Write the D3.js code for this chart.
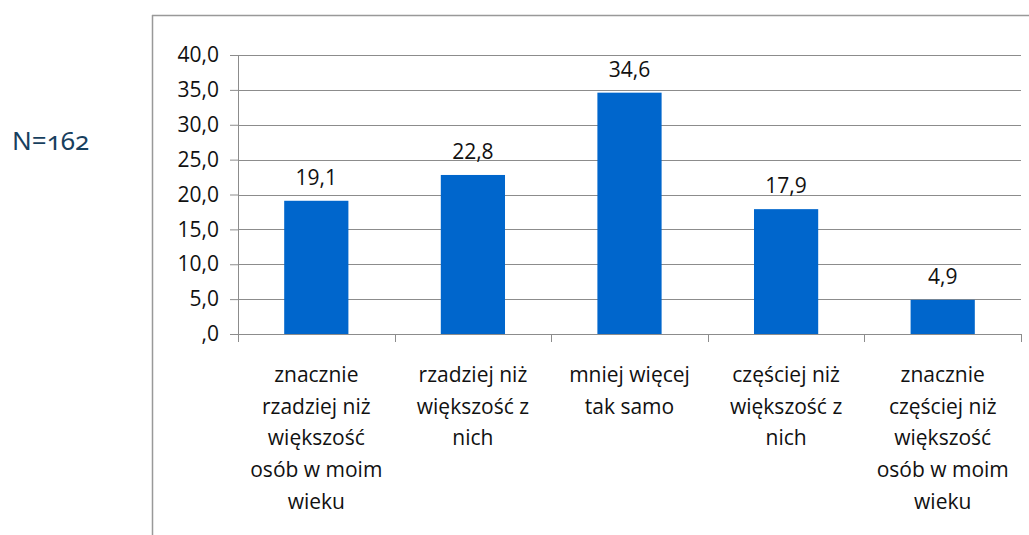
<!DOCTYPE html>
<html>
<head>
<meta charset="utf-8">
<script src="https://cdn.jsdelivr.net/npm/d3@7"></script>
<style>
  html, body { margin: 0; padding: 0; background: #fff; overflow: hidden; }
  svg { display: block; }
  svg text { font-family: "Open Sans", "Noto Sans", sans-serif; fill: #111; }
</style>
</head>
<body>
<div id="chart"></div>
<script>
// categories (each split into wrapped lines)
var categories = [
  ["znacznie", "rzadziej niż", "większość", "osób w moim", "wieku"],
  ["rzadziej niż", "większość z", "nich"],
  ["mniej więcej", "tak samo"],
  ["częściej niż", "większość z", "nich"],
  ["znacznie", "częściej niż", "większość", "osób w moim", "wieku"]
];
var values = [19.1, 22.8, 34.6, 17.9, 4.9];
var yTicks = [0, 5, 10, 15, 20, 25, 30, 35, 40];
var note = "N=162";

var width = 1029, height = 535;
var margin = { top: 55, right: 8, bottom: 201, left: 238 };
var innerWidth = width - margin.left - margin.right,
    innerHeight = height - margin.top - margin.bottom;

var fmt = function (v) {
  var s = v.toFixed(1).replace(".", ",");
  return s.indexOf("0,") === 0 ? s.slice(1) : s;
};

var svg = d3.select("#chart")
  .append("svg")
  .attr("width", width)
  .attr("height", height);

// outer frame: only its top and left edges fall inside the picture
svg.append("line")
  .attr("x1", 152.5).attr("x2", 152.5)
  .attr("y1", 15).attr("y2", height)
  .attr("stroke", "#999").attr("stroke-width", 1.5);
svg.append("line")
  .attr("x1", 152).attr("x2", width)
  .attr("y1", 15.5).attr("y2", 15.5)
  .attr("stroke", "#999").attr("stroke-width", 1.5);

svg.append("text")
  .attr("x", 12)
  .attr("y", 150)
  .style("font-family", "'Noto Sans', sans-serif")
  .style("font-size", "26px")
  .style("font-variant-numeric", "oldstyle-nums")
  .style("fill", "#17405e")
  .text(note);

var g = svg.append("g")
  .attr("transform", "translate(" + margin.left + "," + margin.top + ")");

var x = d3.scaleBand()
  .domain(d3.range(values.length))
  .range([0, innerWidth])
  .paddingInner(0.59)
  .paddingOuter(0.295);

var xb = d3.scaleBand()
  .domain(d3.range(values.length))
  .range([0, innerWidth]);

var y = d3.scaleLinear()
  .domain([0, 40])
  .range([innerHeight, 0]);

// gridlines
g.append("g")
  .selectAll("line")
  .data(yTicks.slice(1))
  .join("line")
  .attr("x1", 0)
  .attr("x2", innerWidth)
  .attr("y1", function (d) { return Math.round(y(d)) + 0.5; })
  .attr("y2", function (d) { return Math.round(y(d)) + 0.5; })
  .attr("stroke", "#8c8c8c")
  .attr("stroke-width", 1);

// y axis
var yAxis = g.append("g")
  .call(d3.axisLeft(y).tickValues(yTicks).tickFormat(fmt).tickSize(8).tickPadding(11));
yAxis.select(".domain").attr("stroke", "#8c8c8c");
yAxis.selectAll(".tick line").attr("stroke", "#8c8c8c");
yAxis.selectAll("text")
  .style("font-size", "21px")
  .style("font-family", "'Open Sans', sans-serif")
  .style("fill", "#111");

// bars
g.selectAll("rect.bar")
  .data(values)
  .join("rect")
  .attr("class", "bar")
  .attr("x", function (d, i) { return x(i); })
  .attr("y", function (d) { return y(d); })
  .attr("width", x.bandwidth())
  .attr("height", function (d) { return innerHeight - y(d); })
  .attr("fill", "#0066cc");

// value labels
g.selectAll("text.val")
  .data(values)
  .join("text")
  .attr("class", "val")
  .attr("x", function (d, i) { return x(i) + x.bandwidth() / 2; })
  .attr("y", function (d) { return y(d) - 16; })
  .attr("text-anchor", "middle")
  .style("font-size", "21px")
  .text(fmt);

// x axis baseline and category boundary ticks
g.append("line")
  .attr("x1", 0).attr("x2", innerWidth)
  .attr("y1", innerHeight + 0.5).attr("y2", innerHeight + 0.5)
  .attr("stroke", "#8c8c8c");

g.append("g")
  .selectAll("line")
  .data(d3.range(values.length + 1))
  .join("line")
  .attr("x1", function (i) { return Math.round(i * xb.step()) + 0.5; })
  .attr("x2", function (i) { return Math.round(i * xb.step()) + 0.5; })
  .attr("y1", innerHeight)
  .attr("y2", innerHeight + 8)
  .attr("stroke", "#8c8c8c");

// category labels, one text element per line
g.selectAll("g.cat")
  .data(categories)
  .join("g")
  .attr("class", "cat")
  .attr("transform", function (d, i) {
    return "translate(" + (xb(i) + xb.bandwidth() / 2) + "," + (innerHeight + 48) + ")";
  })
  .selectAll("text")
  .data(function (d) { return d; })
  .join("text")
  .attr("text-anchor", "middle")
  .attr("y", function (d, j) { return j * 31.7; })
  .style("font-size", "21px")
  .text(function (d) { return d; });
</script>
</body>
</html>
